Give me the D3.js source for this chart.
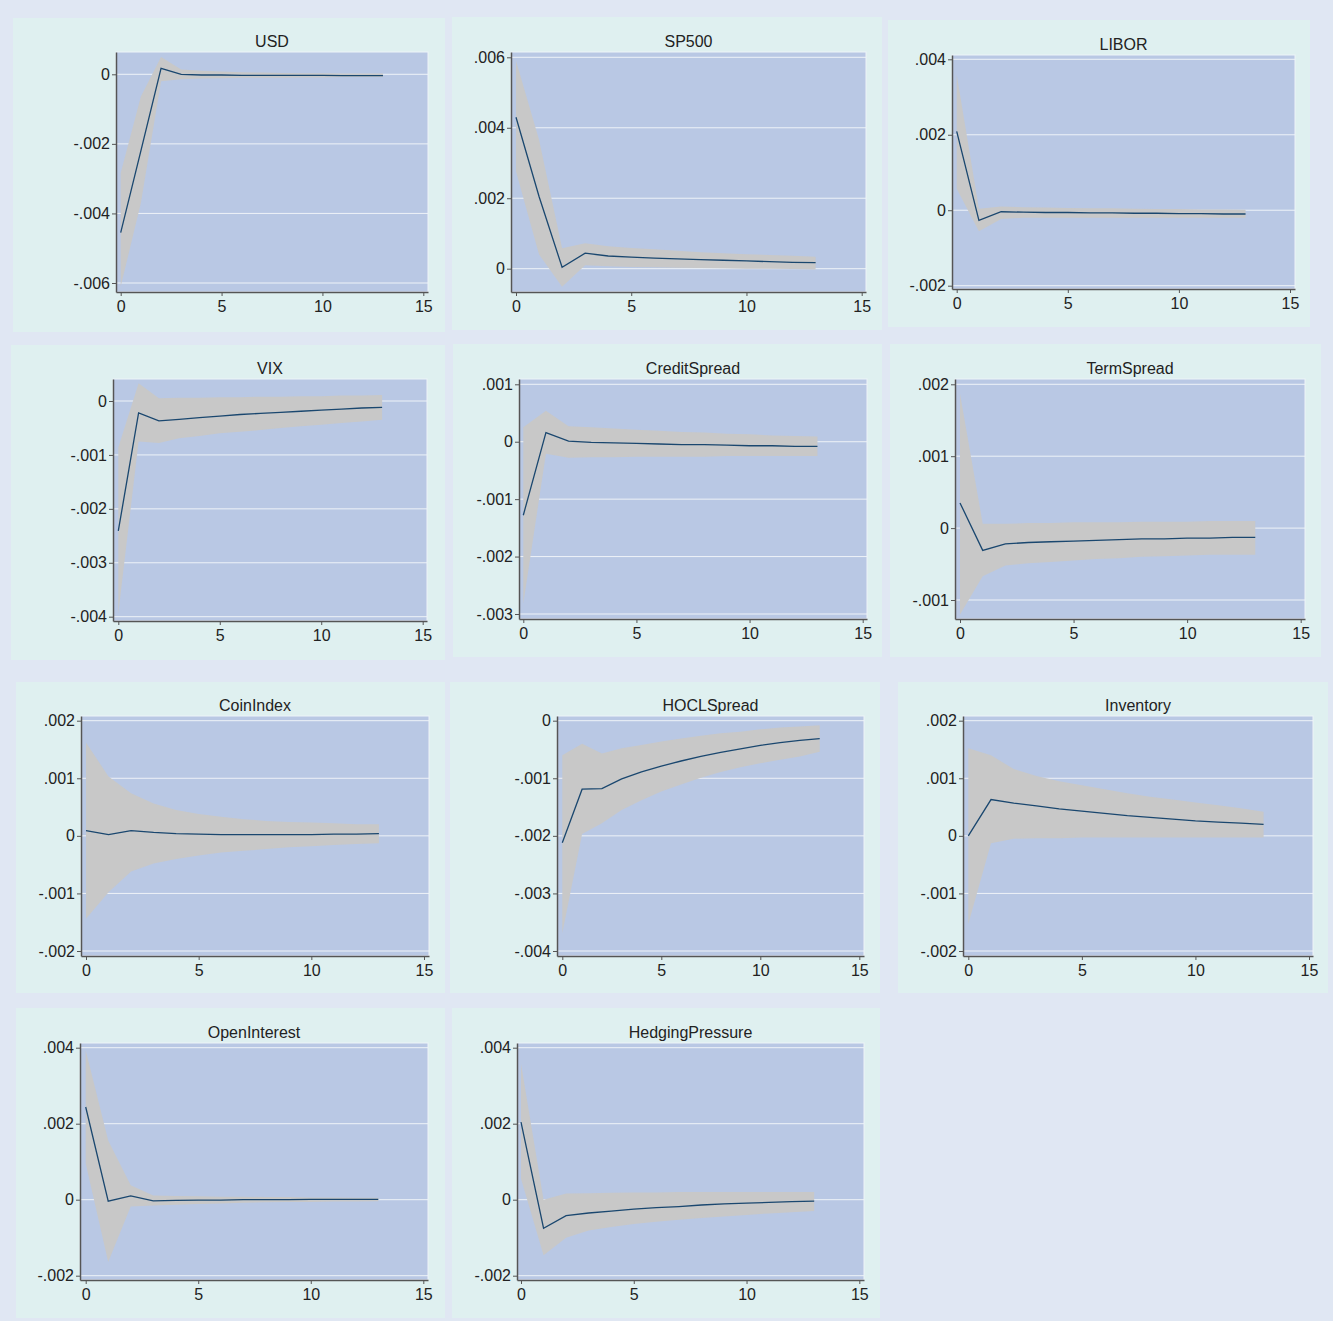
<!DOCTYPE html>
<html>
<head>
<meta charset="utf-8">
<script src="https://cdn.jsdelivr.net/npm/d3@7"></script>
<style>
	body { margin: 0; background: #ffffff; }
	text { font-family: "Liberation Sans", Arial, Helvetica, sans-serif; fill: #222; }
</style>
</head>
<body>
<div id="viz"></div>
<script>

//==============================================================================
// Data: impulse responses (irf) with lower / upper confidence bounds

var steps = [0, 1, 2, 3, 4, 5, 6, 7, 8, 9, 10, 11, 12, 13];
var xTicks = [0, 5, 10, 15];

var names = ["USD", "SP500", "LIBOR", "VIX", "CreditSpread", "TermSpread",
	"CoinIndex", "HOCLSpread", "Inventory", "OpenInterest", "HedgingPressure"];

var irf_USD = [-0.00455, -0.0022, 0.00017, 0.0, -0.00002, -0.00002, -0.00003, -0.00003, -0.00003, -0.00003, -0.00003, -0.00004, -0.00004, -0.00004];
var lo_USD  = [-0.0061, -0.0037, -0.0002, -0.00014, -0.00012, -0.00011, -0.0001, -0.0001, -0.0001, -0.00009, -0.00009, -0.00008, -0.00008, -0.00008];
var hi_USD  = [-0.00284, -0.00064, 0.0005, 0.00014, 0.0001, 0.00008, 0.00006, 0.00005, 0.00004, 0.00003, 0.00003, 0.00002, 0.00002, 0.00002];

var irf_SP500 = [0.0043, 0.00205, 0.00004, 0.00044, 0.00036, 0.00033, 0.0003, 0.00028, 0.00026, 0.00024, 0.00022, 0.0002, 0.00018, 0.00017];
var lo_SP500  = [0.00276, 0.0004, -0.00051, 0.0001, 0.00007, 0.00005, 0.00004, 0.00003, 0.00002, 0.00001, 0.0, 0.0, -0.00001, -0.00002];
var hi_SP500  = [0.0059, 0.00366, 0.00058, 0.00072, 0.00064, 0.00059, 0.00055, 0.00051, 0.00047, 0.00044, 0.00041, 0.00039, 0.00037, 0.00034];

var irf_LIBOR = [0.00209, -0.00027, -0.00004, -0.00005, -0.00006, -0.00006, -0.00007, -0.00007, -0.00008, -0.00008, -0.00009, -0.00009, -0.0001, -0.0001];
var lo_LIBOR  = [0.00057, -0.00056, -0.00023, -0.0002, -0.0002, -0.0002, -0.0002, -0.0002, -0.0002, -0.0002, -0.0002, -0.0002, -0.0002, -0.0002];
var hi_LIBOR  = [0.0036, 0.00004, 0.0001, 0.00008, 0.00007, 0.00006, 0.00005, 0.00005, 0.00004, 0.00003, 0.00003, 0.00002, 0.00002, 0.00001];

var irf_VIX = [-0.00241, -0.00022, -0.00037, -0.00034, -0.00031, -0.00028, -0.00025, -0.00023, -0.00021, -0.00019, -0.00017, -0.00015, -0.00013, -0.00012];
var lo_VIX  = [-0.00394, -0.00075, -0.00078, -0.00069, -0.00065, -0.0006, -0.00057, -0.00054, -0.0005, -0.00047, -0.00044, -0.00041, -0.00038, -0.00035];
var hi_VIX  = [-0.00086, 0.00033, 0.00005, 0.00006, 0.00006, 0.00007, 0.00007, 0.00008, 0.00008, 0.00009, 0.00009, 0.0001, 0.0001, 0.00011];

var irf_CreditSpread = [-0.00128, 0.00016, 0.00001, -0.00001, -0.00002, -0.00003, -0.00004, -0.00005, -0.00005, -0.00006, -0.00007, -0.00007, -0.00008, -0.00008];
var lo_CreditSpread  = [-0.00282, -0.00021, -0.00028, -0.00027, -0.00027, -0.00026, -0.00026, -0.00026, -0.00026, -0.00025, -0.00025, -0.00025, -0.00025, -0.00025];
var hi_CreditSpread  = [0.00025, 0.00054, 0.00027, 0.00025, 0.00023, 0.00021, 0.00019, 0.00017, 0.00016, 0.00014, 0.00013, 0.00011, 0.0001, 0.00009];

var irf_TermSpread = [0.00035, -0.00031, -0.00022, -0.0002, -0.00019, -0.00018, -0.00017, -0.00016, -0.00015, -0.00015, -0.00014, -0.00014, -0.00013, -0.00013];
var lo_TermSpread  = [-0.0012, -0.00067, -0.00052, -0.00049, -0.00047, -0.00045, -0.00043, -0.00042, -0.0004, -0.00039, -0.00038, -0.00037, -0.00037, -0.00037];
var hi_TermSpread  = [0.00187, 0.00006, 0.00006, 0.00007, 0.00007, 0.00008, 0.00008, 0.00008, 0.00009, 0.00009, 0.00009, 0.0001, 0.0001, 0.0001];

var irf_CoinIndex = [0.00009, 0.00002, 0.00009, 0.00006, 0.00004, 0.00003, 0.00002, 0.00002, 0.00002, 0.00002, 0.00002, 0.00003, 0.00003, 0.00004];
var lo_CoinIndex  = [-0.00144, -0.00098, -0.00062, -0.00048, -0.0004, -0.00034, -0.00029, -0.00026, -0.00023, -0.0002, -0.00018, -0.00016, -0.00014, -0.00013];
var hi_CoinIndex  = [0.00162, 0.00103, 0.00074, 0.00056, 0.00045, 0.00038, 0.00033, 0.00029, 0.00026, 0.00024, 0.00023, 0.00022, 0.0002, 0.0002];

var irf_HOCLSpread = [-0.00212, -0.00119, -0.00118, -0.00101, -0.00089, -0.00079, -0.0007, -0.00062, -0.00055, -0.00049, -0.00043, -0.00038, -0.00034, -0.00031];
var lo_HOCLSpread  = [-0.00369, -0.00197, -0.00178, -0.00155, -0.00138, -0.00123, -0.00111, -0.00099, -0.00089, -0.00081, -0.00074, -0.00068, -0.00062, -0.00054];
var hi_HOCLSpread  = [-0.0006, -0.0004, -0.00057, -0.00048, -0.00042, -0.00036, -0.00031, -0.00026, -0.00022, -0.00019, -0.00015, -0.00012, -0.0001, -0.00008];

var irf_Inventory = [0.0, 0.00063, 0.00057, 0.00052, 0.00047, 0.00043, 0.00039, 0.00035, 0.00032, 0.00029, 0.00026, 0.00024, 0.00022, 0.0002];
var lo_Inventory  = [-0.00153, -0.00013, -0.00005, -0.00004, -0.00004, -0.00003, -0.00003, -0.00003, -0.00003, -0.00003, -0.00003, -0.00003, -0.00003, -0.00003];
var hi_Inventory  = [0.00152, 0.0014, 0.00116, 0.00104, 0.00095, 0.00088, 0.00081, 0.00074, 0.00068, 0.00063, 0.00058, 0.00053, 0.00048, 0.00042];

var irf_OpenInterest = [0.00244, -0.00004, 0.0001, -0.00003, -0.00002, -0.00001, -0.00001, 0.0, 0.0, 0.0, 0.00001, 0.00001, 0.00001, 0.00001];
var lo_OpenInterest  = [0.00095, -0.00164, -0.00018, -0.00015, -0.00013, -0.00011, -0.0001, -0.00008, -0.00007, -0.00006, -0.00006, -0.00005, -0.00005, -0.00004];
var hi_OpenInterest  = [0.00393, 0.00156, 0.00038, 0.00011, 0.0001, 0.00009, 0.00008, 0.00008, 0.00007, 0.00007, 0.00006, 0.00006, 0.00005, 0.00005];

var irf_HedgingPressure = [0.00204, -0.00075, -0.00042, -0.00035, -0.0003, -0.00025, -0.00021, -0.00018, -0.00014, -0.00011, -0.00009, -0.00007, -0.00005, -0.00004];
var lo_HedgingPressure  = [0.00055, -0.00146, -0.001, -0.00081, -0.00072, -0.00064, -0.00058, -0.00053, -0.00048, -0.00044, -0.0004, -0.00036, -0.00033, -0.0003];
var hi_HedgingPressure  = [0.00358, 0.0, 0.00016, 0.00017, 0.00018, 0.00019, 0.00019, 0.0002, 0.0002, 0.0002, 0.0002, 0.0002, 0.0002, 0.0002];

// y tick labels for each panel
var yTicks_USD = [-0.006, -0.004, -0.002, 0];
var yTicks_SP500 = [0, 0.002, 0.004, 0.006];
var yTicks_LIBOR = [-0.002, 0, 0.002, 0.004];
var yTicks_VIX = [-0.004, -0.003, -0.002, -0.001, 0];
var yTicks_CreditSpread = [-0.003, -0.002, -0.001, 0, 0.001];
var yTicks_TermSpread = [-0.001, 0, 0.001, 0.002];
var yTicks_CoinIndex = [-0.002, -0.001, 0, 0.001, 0.002];
var yTicks_HOCLSpread = [-0.004, -0.003, -0.002, -0.001, 0];
var yTicks_Inventory = [-0.002, -0.001, 0, 0.001, 0.002];
var yTicks_OpenInterest = [-0.002, 0, 0.002, 0.004];
var yTicks_HedgingPressure = [-0.002, 0, 0.002, 0.004];

var series = [
	{ irf: irf_USD, lo: lo_USD, hi: hi_USD, ticks: yTicks_USD },
	{ irf: irf_SP500, lo: lo_SP500, hi: hi_SP500, ticks: yTicks_SP500 },
	{ irf: irf_LIBOR, lo: lo_LIBOR, hi: hi_LIBOR, ticks: yTicks_LIBOR },
	{ irf: irf_VIX, lo: lo_VIX, hi: hi_VIX, ticks: yTicks_VIX },
	{ irf: irf_CreditSpread, lo: lo_CreditSpread, hi: hi_CreditSpread, ticks: yTicks_CreditSpread },
	{ irf: irf_TermSpread, lo: lo_TermSpread, hi: hi_TermSpread, ticks: yTicks_TermSpread },
	{ irf: irf_CoinIndex, lo: lo_CoinIndex, hi: hi_CoinIndex, ticks: yTicks_CoinIndex },
	{ irf: irf_HOCLSpread, lo: lo_HOCLSpread, hi: hi_HOCLSpread, ticks: yTicks_HOCLSpread },
	{ irf: irf_Inventory, lo: lo_Inventory, hi: hi_Inventory, ticks: yTicks_Inventory },
	{ irf: irf_OpenInterest, lo: lo_OpenInterest, hi: hi_OpenInterest, ticks: yTicks_OpenInterest },
	{ irf: irf_HedgingPressure, lo: lo_HedgingPressure, hi: hi_HedgingPressure, ticks: yTicks_HedgingPressure }
];


//==============================================================================
// Layout: every panel sits slightly differently, like the original graph
// box = panel background, plot = plot region, yPx = pixel of first / last y tick,
// xPx = pixel of x = 0 and x = 15
var layout = [
	{ box: [13, 18, 445, 332],    plot: [116, 52, 428, 292],    yPx: [283, 74.3],     xPx: [120.7, 423.3] },
	{ box: [452, 17, 882, 330],   plot: [511, 52, 866, 292],    yPx: [268.7, 57.3],   xPx: [516, 861.7] },
	{ box: [888, 20, 1310, 327],  plot: [952, 55, 1295, 289],   yPx: [285.7, 59.3],   xPx: [956.7, 1290] },
	{ box: [11, 345, 445, 660],   plot: [113, 379, 427, 621],   yPx: [616.7, 401],    xPx: [118.3, 422.7] },
	{ box: [453, 344, 882, 657],  plot: [519, 379, 867, 619],   yPx: [614, 384.3],    xPx: [523.3, 862.7] },
	{ box: [890, 344, 1321, 657], plot: [955, 379, 1305, 619],  yPx: [600, 384.3],    xPx: [960, 1300.7] },
	{ box: [16, 682, 445, 993],   plot: [81, 716, 429, 956],    yPx: [951, 720.7],    xPx: [86, 424] },
	{ box: [450, 682, 880, 993],  plot: [557, 716, 864, 956],   yPx: [951, 720.7],    xPx: [562.3, 859.3] },
	{ box: [898, 682, 1328, 993], plot: [963, 716, 1313, 956],  yPx: [951, 720.7],    xPx: [968.3, 1309] },
	{ box: [16, 1008, 445, 1318], plot: [80, 1043, 428, 1280],  yPx: [1275.7, 1047.7], xPx: [85.7, 423.3] },
	{ box: [452, 1008, 880, 1318], plot: [517, 1043, 864, 1280], yPx: [1275.7, 1047.7], xPx: [521, 859.3] }
];

var width = 1333, height = 1321;
var tick_size = 16, title_size = 16;

// stata style tick labels: .002, -.004, 0
var fmt = function(d) {
	if (Math.abs(d) < 1e-12) return "0";
	return (d < 0 ? "-" : "") + Math.abs(d).toFixed(3).replace(/^0/, "");
};


//==============================================================================
// Draw
var svg = d3.select("#viz")
	.append("svg")
	.attr("width", width)
	.attr("height", height);

svg.append("rect")
	.attr("width", width)
	.attr("height", height)
	.attr("fill", "#e0e7f3");

series.forEach(function(s, i) {
	var L = layout[i];
	var px0 = L.plot[0], py0 = L.plot[1], px1 = L.plot[2], py1 = L.plot[3];

	// scales from tick pixel positions, then stretched to the plot edges
	var y = d3.scaleLinear()
		.domain([s.ticks[0], s.ticks[s.ticks.length - 1]])
		.range(L.yPx);
	y.domain([y.invert(py1), y.invert(py0)]).range([py1, py0]);

	var x = d3.scaleLinear()
		.domain([0, 15])
		.range(L.xPx);
	x.domain([x.invert(px0), x.invert(px1)]).range([px0, px1]);

	var g = svg.append("g").attr("class", "panel");

	// panel background
	g.append("rect")
		.attr("x", L.box[0])
		.attr("y", L.box[1])
		.attr("width", L.box[2] - L.box[0])
		.attr("height", L.box[3] - L.box[1])
		.attr("fill", "#dff0f0");

	// plot region
	g.append("rect")
		.attr("x", px0)
		.attr("y", py0)
		.attr("width", px1 - px0)
		.attr("height", py1 - py0)
		.attr("fill", "#b9c8e4")
		.attr("stroke", "#eef3f8")
		.attr("stroke-width", 1);

	// gridlines
	g.append("g")
		.selectAll("line")
		.data(s.ticks)
		.enter().append("line")
		.attr("x1", px0)
		.attr("x2", px1)
		.attr("y1", function(d) { return y(d) })
		.attr("y2", function(d) { return y(d) })
		.attr("stroke", "#eef3f8")
		.attr("stroke-width", 1);

	// confidence band
	var area = d3.area()
		.x(function(d, j) { return x(steps[j]) })
		.y0(function(d, j) { return y(s.lo[j]) })
		.y1(function(d, j) { return y(s.hi[j]) });

	g.append("path")
		.datum(s.irf)
		.attr("d", area)
		.attr("fill", "#c8c8c8");

	// impulse response line
	var line = d3.line()
		.x(function(d, j) { return x(steps[j]) })
		.y(function(d) { return y(d) });

	g.append("path")
		.datum(s.irf)
		.attr("d", line)
		.attr("fill", "none")
		.attr("stroke", "#1a476f")
		.attr("stroke-width", 1.3);

	// axes
	var yAxis = d3.axisLeft(y)
		.tickValues(s.ticks)
		.tickFormat(fmt)
		.tickSizeInner(4)
		.tickSizeOuter(0)
		.tickPadding(2);

	var xAxis = d3.axisBottom(x)
		.tickValues(xTicks)
		.tickSizeInner(4)
		.tickSizeOuter(0)
		.tickPadding(5);

	var ya = g.append("g")
		.attr("transform", "translate(" + px0 + ",0)")
		.call(yAxis);
	var xa = g.append("g")
		.attr("transform", "translate(0," + py1 + ")")
		.call(xAxis);

	[ya, xa].forEach(function(a) {
		a.select(".domain").attr("stroke", "#555").attr("stroke-width", 1.5);
		a.selectAll(".tick line").attr("stroke", "#555").attr("stroke-width", 1);
		a.selectAll(".tick text")
			.attr("fill", "#222")
			.style("font-size", tick_size + "px")
			.style("font-family", "'Liberation Sans', Arial, sans-serif");
	});

	// title
	g.append("text")
		.attr("x", (px0 + px1) / 2)
		.attr("y", py0 - 5)
		.attr("text-anchor", "middle")
		.style("font-size", title_size + "px")
		.text(names[i]);
});

</script>
</body>
</html>
